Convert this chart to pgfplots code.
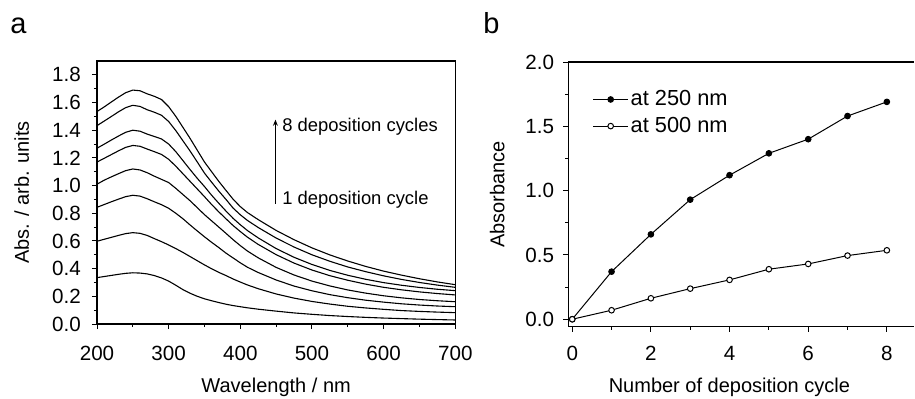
\documentclass[border=0pt]{standalone}
\usepackage{fontspec}
\setmainfont{Liberation Sans}
\usepackage{pgfplots}
\usepackage{pgfplotstable}
\pgfplotsset{compat=1.18}
\usetikzlibrary{arrows.meta}

\pgfplotstableread{
w c1 c2 c3 c4 c5 c6 c7 c8
200 0.335 0.598 0.843 1.010 1.170 1.270 1.433 1.535
210 0.343 0.612 0.863 1.039 1.197 1.299 1.466 1.568
220 0.351 0.626 0.883 1.063 1.224 1.329 1.499 1.604
230 0.359 0.640 0.902 1.086 1.251 1.358 1.533 1.639
240 0.366 0.653 0.920 1.108 1.276 1.385 1.563 1.671
250 0.370 0.660 0.930 1.120 1.290 1.400 1.580 1.690
260 0.368 0.655 0.924 1.113 1.284 1.393 1.572 1.685
270 0.362 0.640 0.905 1.093 1.264 1.372 1.548 1.663
280 0.350 0.617 0.883 1.068 1.245 1.355 1.530 1.645
290 0.333 0.595 0.862 1.045 1.225 1.337 1.508 1.622
300 0.310 0.571 0.836 1.022 1.190 1.300 1.463 1.570
310 0.280 0.545 0.800 0.980 1.140 1.245 1.397 1.500
320 0.248 0.517 0.760 0.935 1.085 1.180 1.323 1.420
330 0.222 0.487 0.715 0.890 1.030 1.115 1.249 1.340
340 0.200 0.457 0.672 0.840 0.975 1.052 1.170 1.255
350 0.182 0.427 0.630 0.790 0.920 0.993 1.090 1.170
360 0.168 0.399 0.590 0.745 0.863 0.930 1.024 1.100
370 0.155 0.373 0.552 0.700 0.810 0.872 0.960 1.030
380 0.143 0.350 0.512 0.655 0.760 0.816 0.900 0.965
390 0.133 0.325 0.477 0.609 0.711 0.763 0.837 0.901
400 0.125 0.303 0.442 0.566 0.668 0.717 0.789 0.848
410 0.117 0.282 0.410 0.527 0.627 0.675 0.748 0.805
425 0.107 0.255 0.372 0.478 0.575 0.622 0.697 0.754
450 0.093 0.217 0.318 0.409 0.501 0.545 0.621 0.676
475 0.080 0.187 0.274 0.354 0.440 0.482 0.556 0.609
500 0.070 0.163 0.240 0.310 0.390 0.430 0.500 0.550
525 0.061 0.144 0.212 0.275 0.349 0.387 0.453 0.499
550 0.054 0.128 0.190 0.246 0.316 0.352 0.412 0.455
575 0.048 0.116 0.172 0.223 0.288 0.323 0.378 0.416
600 0.043 0.106 0.158 0.204 0.265 0.299 0.348 0.382
625 0.039 0.097 0.146 0.189 0.247 0.280 0.322 0.353
650 0.035 0.091 0.137 0.177 0.232 0.264 0.300 0.327
675 0.032 0.086 0.130 0.168 0.220 0.251 0.281 0.304
700 0.029 0.082 0.125 0.161 0.210 0.241 0.265 0.284
}\spectra

\pgfplotstableread{
n a250 a500
0 0.00 0.000
1 0.37 0.070
2 0.66 0.163
3 0.93 0.238
4 1.12 0.306
5 1.29 0.389
6 1.40 0.430
7 1.58 0.495
8 1.69 0.536
}\cycles

\pgfplotsset{
  common/.style={
    scale only axis,
    anchor=south west,
    tick align=outside,
    tick pos=left,
    major tick length=2.6pt,
    minor tick length=1.6pt,
    axis line style={line width=0.55pt},
    every tick/.style={black, line width=0.5pt},
    /pgf/number format/assume math mode=true,
    tick label style={font=\fontsize{10.3}{12}\selectfont},
    label style={font=\fontsize{10.9}{12}\selectfont},
    yticklabel style={/pgf/number format/fixed, /pgf/number format/fixed zerofill, /pgf/number format/precision=1},
    clip=false,
  }
}

\begin{document}
\begin{tikzpicture}
\useasboundingbox (0,0) rectangle (457.5pt,199pt);

\node[anchor=base west, inner sep=0pt, font=\fontsize{14.5}{15}\selectfont] at (5pt,182.5pt) {a};
\node[anchor=base west, inner sep=0pt, font=\fontsize{14.5}{15}\selectfont] at (241.5pt,182.5pt) {b};

\begin{axis}[common,
  at={(48.5pt,37pt)},
  width=179.15pt, height=131.5pt,
  xmin=200, xmax=700, ymin=0, ymax=1.9,
  xtick={200,300,400,500,600,700},
  ytick={0,0.2,0.4,0.6,0.8,1.0,1.2,1.4,1.6,1.8},
  minor x tick num=1, minor y tick num=1,
  xticklabel style={yshift=-5pt},
  yticklabel style={xshift=-2pt},
  xlabel={Wavelength / nm},
  ylabel={Abs. / arb. units},
  every axis x label/.style={at={(axis description cs:0.5,-0.262)}, anchor=base},
  every axis y label/.style={at={(axis description cs:-0.19,0.5)}, rotate=90, anchor=base},
]
\pgfplotsinvokeforeach{1,...,8}{
  \addplot[black, line width=0.55pt, line join=round] table[x=w, y=c#1] {\spectra};
}
\draw[-{Stealth[length=3pt,width=2.4pt]}, line width=0.5pt] (axis cs:449,0.868) -- (axis cs:449,1.476);
\node[anchor=base west, inner sep=0pt, font=\fontsize{9.2}{11}\selectfont] at (axis cs:458,1.391) {8 deposition cycles};
\node[anchor=base west, inner sep=0pt, font=\fontsize{9.2}{11}\selectfont] at (axis cs:458,0.861) {1 deposition cycle};
\end{axis}

\begin{axis}[common,
  at={(284.15pt,35.65pt)},
  width=172.85pt, height=132.35pt,
  xmin=-0.1, xmax=8.69, ymin=-0.058, ymax=2.0,
  axis x line*=box, axis y line*=left,
  xtick={0,2,4,6,8}, minor x tick num=1,
  ytick={0,0.5,1.0,1.5,2.0}, minor y tick num=1,
  xticklabel style={yshift=-3.5pt},
  yticklabel style={xshift=-1pt},
  xlabel={Number of deposition cycle},
  ylabel={Absorbance},
  every axis x label/.style={at={(axis description cs:0.466,-0.25)}, anchor=base},
  every axis y label/.style={at={(axis description cs:-0.185,0.5)}, rotate=90, anchor=base},
  legend style={draw=none, fill=none, at={(axis description cs:0.052,0.917)}, anchor=north west,
    font=\fontsize{10.9}{12}\selectfont, row sep=2.2pt, nodes={inner sep=1pt}},
  legend cell align=left,
  legend image code/.code={\draw[mark repeat=2,mark phase=2,#1] plot coordinates {(0pt,0pt) (8.75pt,0pt) (17.5pt,0pt)};},
]
\addplot[black, line width=0.5pt, mark=*, mark size=1.4pt, mark options={fill=black, line width=0.5pt}] table[x=n, y=a250] {\cycles};
\addplot[black, line width=0.5pt, mark=*, mark size=1.4pt, mark options={fill=white, line width=0.5pt}] table[x=n, y=a500] {\cycles};
\legend{at 250 nm, at 500 nm}
\end{axis}
\end{tikzpicture}
\end{document}
